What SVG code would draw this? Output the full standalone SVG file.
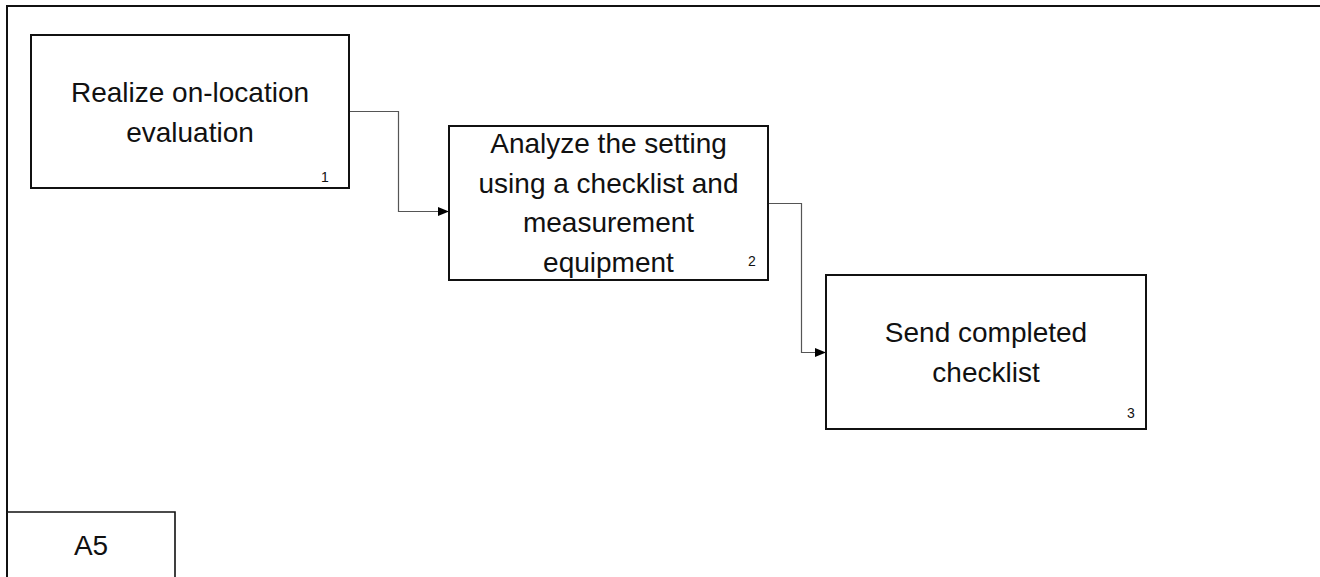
<svg xmlns="http://www.w3.org/2000/svg" width="1320" height="577" viewBox="0 0 1320 577">
  <style>
    .frame { fill: none; stroke: #111; stroke-width: 2; }
    .box { fill: #fff; stroke: #111; stroke-width: 2; }
    .label { font-family: "Liberation Sans", Arial, sans-serif; font-size: 28px; fill: #111; text-anchor: middle; }
    .num { font-family: "Liberation Sans", Arial, sans-serif; font-size: 14px; fill: #111; text-anchor: middle; }
    .link { fill: none; stroke: #555; stroke-width: 1.2; }
  </style>
  <defs>
    <marker id="arrow" markerWidth="11" markerHeight="10" refX="11" refY="5" orient="auto" markerUnits="userSpaceOnUse">
      <path d="M0,0.5 L11,5 L0,9.5 Z" fill="#000"/>
    </marker>
  </defs>

  <rect width="1320" height="577" fill="#fff"/>

  <!-- outer frame: top and left edges only -->
  <g id="frame">
    <path class="frame" d="M7,577 V6 H1320"/>
  </g>

  <!-- page tag -->
  <g id="tag">
    <path class="box" d="M7,512 H175 V578" style="stroke-width:1.6"/>
    <text class="label" x="91" y="555">A5</text>
  </g>

  <g id="connectors">
    <path class="link" d="M349,111.5 H398.5 V211.5 H449" marker-end="url(#arrow)"/>
    <path class="link" d="M768,203.5 H801.5 V352.5 H826" marker-end="url(#arrow)"/>
  </g>

  <g id="node1">
    <rect class="box" x="31" y="35" width="318" height="153"/>
    <text class="label" x="190" y="102">Realize on-location</text>
    <text class="label" x="190" y="142">evaluation</text>
    <text class="num" x="325" y="182">1</text>
  </g>

  <g id="node2">
    <rect class="box" x="449" y="126" width="319" height="154"/>
    <text class="label" x="608.5" y="153">Analyze the setting</text>
    <text class="label" x="608.5" y="193">using a checklist and</text>
    <text class="label" x="608.5" y="232">measurement</text>
    <text class="label" x="608.5" y="272">equipment</text>
    <text class="num" x="752" y="266">2</text>
  </g>

  <g id="node3">
    <rect class="box" x="826" y="275" width="320" height="154"/>
    <text class="label" x="986" y="342">Send completed</text>
    <text class="label" x="986" y="382">checklist</text>
    <text class="num" x="1131" y="418">3</text>
  </g>
</svg>
